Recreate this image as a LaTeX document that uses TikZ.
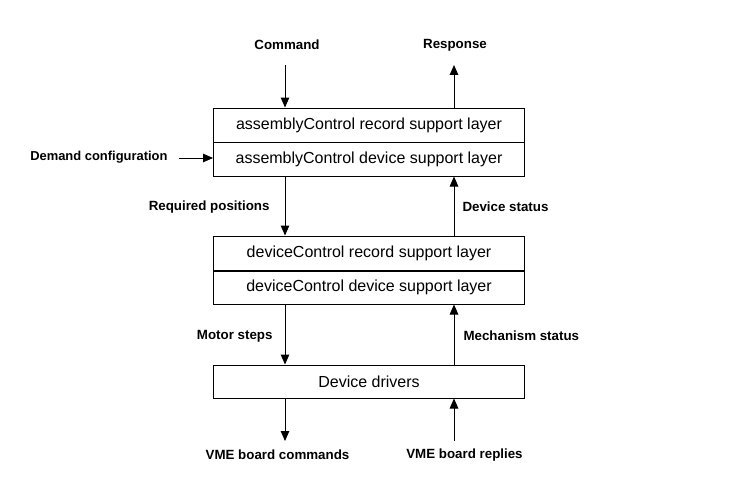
\documentclass[tikz,border=0pt]{standalone}
\usepackage{fontspec}
\setmainfont{Liberation Sans}
\usetikzlibrary{arrows.meta}
\begin{document}
\begin{tikzpicture}[x=0.75pt,y=-0.75pt,
  line width=0.75pt,
  layerbox/.style={draw,line width=0.75pt,rectangle,minimum width=233.25pt,minimum height=25.5pt,inner sep=0pt,font=\fontsize{12}{14}\selectfont},
  lbl/.style={font=\fontsize{10}{12}\selectfont\bfseries,inner sep=0pt},
  arr/.style={-{Triangle[length=7.5pt,width=6.4pt]}}]
\fill[white] (0,0) rectangle (731,503);
\useasboundingbox (0,0) rectangle (731,503);
% column coordinates
\coordinate (cL) at (285,0);
\coordinate (cR) at (454,0);
% boxes
\node[layerbox] (a1) at (369,125) {assemblyControl record support layer};
\node[layerbox] (a2) at (369,159) {assemblyControl device support layer};
\node[layerbox] (d1) at (369,253) {deviceControl record support layer};
\node[layerbox] (d2) at (369,287) {deviceControl device support layer};
\draw[line width=1.5pt] (d1.south west) -- (d1.south east);
\node[layerbox,minimum height=24.75pt] (dd) at (369,381.5) {Device drivers};
% labels
\node[lbl] (cmd) at (287,45) {Command};
\node[lbl] (resp) at (455,45) {Response};
\node[lbl,anchor=east,font=\fontsize{9.7}{12}\selectfont\bfseries] (dem) at (168,157) {Demand configuration};
\node[lbl,anchor=east] (req) at (270,207) {Required positions};
\node[lbl,anchor=west] (dst) at (462,207) {Device status};
\node[lbl,anchor=east] (mot) at (273,336) {Motor steps};
\node[lbl,anchor=west] (mech) at (463,336) {Mechanism status};
\node[lbl] (vmec) at (277.5,455) {VME board commands};
\node[lbl] (vmer) at (464.5,455) {VME board replies};
% free ends
\coordinate (cmdT) at (285,65);
\coordinate (respT) at (454,65);
\coordinate (demL) at (179,158);
\coordinate (vcB) at (285,441);
\coordinate (vrB) at (454,441);
% connectors
\draw[arr] (cmdT) -- (a1.north -| cL);
\draw[arr] (a1.north -| cR) -- (respT);
\draw[arr] (demL) -- (a2.west |- demL);
\draw[arr] (a2.south -| cL) -- (d1.north -| cL);
\draw[arr] (d1.north -| cR) -- (a2.south -| cR);
\draw[arr] (d2.south -| cL) -- (dd.north -| cL);
\draw[arr] (dd.north -| cR) -- (d2.south -| cR);
\draw[arr] (dd.south -| cL) -- (vcB);
\draw[arr] (vrB) -- (dd.south -| cR);
\end{tikzpicture}
\end{document}
